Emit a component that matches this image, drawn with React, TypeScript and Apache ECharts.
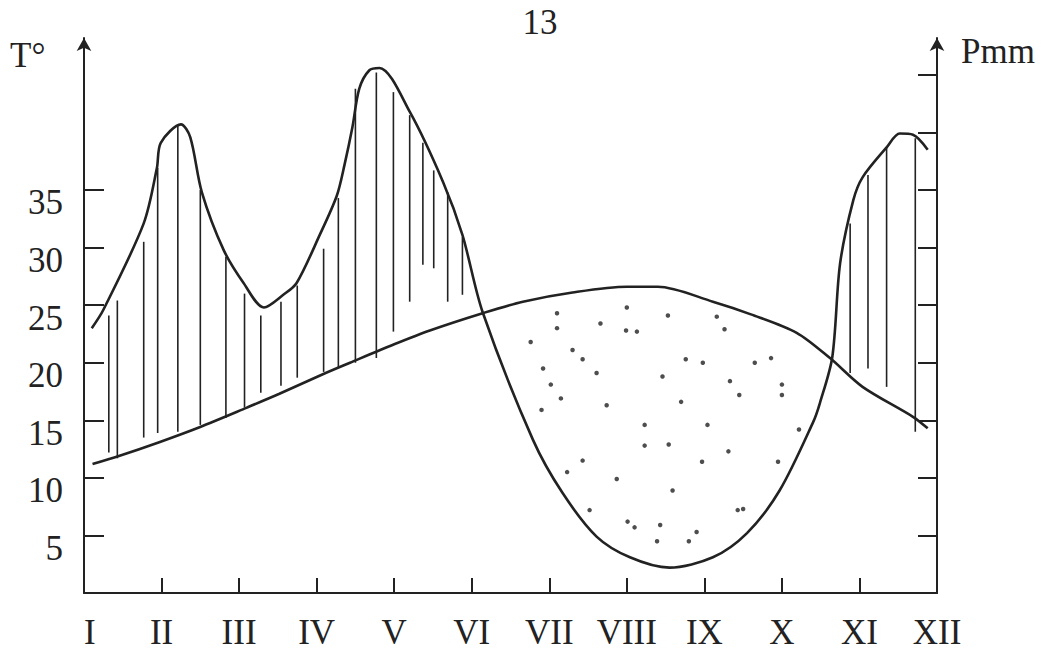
import React, { useEffect, useRef } from "react";
import * as echarts from "echarts";

// Month labels along the bottom axis (position 0 = January, 11 = December)
const months = ["I", "II", "III", "IV", "V", "VI", "VII", "VIII", "IX", "X", "XI", "XII"];
const monthLabelPositions = [0, 1, 2, 3, 4, 5, 6, 7, 8, 9, 10, 11];
const monthTickPositions = [1, 2, 3, 4, 5, 6, 7, 8, 9, 10];

// Temperature axis (°C) and precipitation axis (mm, P = 2T)
const tempTicks = [5, 10, 15, 20, 25, 30, 35];
const precipTicks = [10, 20, 30, 40, 50, 60, 70, 80, 90];
const tempMax = 48.2;
const precipMax = 96.4;

// Temperature curve: month position and °C
const tempMonth = [0.11, 0.45, 0.97, 1.49, 2.1, 2.52, 3.08, 3.43, 4.0, 4.46, 5.14, 5.66, 6.3, 7.0, 7.4, 8.11, 8.6, 9.19, 9.62, 10.04, 10.69, 10.88];
const tempValue = [11.2, 11.9, 13.1, 14.4, 16.1, 17.3, 19.0, 20.0, 21.6, 22.8, 24.3, 25.3, 26.1, 26.6, 26.6, 25.3, 24.2, 22.6, 20.4, 17.9, 15.3, 14.3];

// Precipitation curve: month position and mm
const precipMonth = [0.1, 0.25, 0.77, 0.94, 0.99, 1.25, 1.37, 1.52, 1.8, 2.06, 2.32, 2.57, 2.74, 3.04, 3.26, 3.36, 3.46, 3.55, 3.68, 3.81, 4.2, 4.63, 4.88, 5.14, 5.79, 6.17, 6.61, 7.04, 7.55, 8.11, 8.55, 8.97, 9.4, 9.49, 9.65, 9.75, 9.92, 10.04, 10.35, 10.52, 10.69, 10.88];
const precipValue = [46.0, 49.2, 64.2, 73.8, 78.2, 81.4, 79.2, 69.6, 59.6, 53.8, 49.6, 51.8, 53.8, 62.2, 69.0, 74.4, 80.8, 87.6, 90.8, 91.2, 83.6, 71.4, 62.2, 48.8, 26.6, 17.4, 9.8, 6.2, 4.4, 6.2, 10.4, 17.8, 29.6, 33.0, 41.0, 57.2, 68.2, 72.2, 77.4, 79.8, 79.6, 77.0];

// Humid-period hatching: month position, top and bottom of each stroke (°C scale)
const hatchMonth = [0.32, 0.43, 0.77, 0.95, 1.21, 1.5, 1.83, 2.07, 2.28, 2.54, 2.75, 3.09, 3.28, 3.5, 3.77, 3.99, 4.2, 4.37, 4.51, 4.69, 4.88, 9.88, 10.11, 10.35, 10.72];
const hatchTop = [24.1, 25.4, 30.5, 36.9, 40.6, 35.0, 29.2, 26.0, 24.1, 25.3, 26.7, 29.9, 34.3, 43.8, 45.2, 43.5, 41.5, 39.1, 36.7, 34.8, 30.9, 32.1, 36.3, 38.7, 39.5];
const hatchBottom = [12.2, 11.7, 13.5, 13.9, 14.0, 14.6, 15.2, 16.1, 17.4, 18.0, 18.7, 19.2, 19.6, 20.0, 20.4, 22.7, 25.3, 28.5, 28.2, 25.3, 25.9, 19.1, 19.5, 17.9, 14.0];

// Arid-period stippling: month position and °C scale height of each dot
const dotMonth = [6.1, 6.1, 5.76, 6.66, 7.0, 6.99, 7.13, 7.53, 8.16, 8.26, 6.3, 6.43, 5.92, 6.61, 6.02, 6.15, 5.9, 6.74, 7.46, 7.76, 7.98, 8.65, 8.86, 8.33, 8.45, 9.0, 9.0, 7.7, 7.23, 8.04, 9.22, 7.23, 7.54, 8.31, 7.97, 8.95, 6.43, 6.23, 6.87, 7.59, 8.43, 8.5, 6.52, 7.01, 7.1, 7.43, 7.9, 7.8, 7.39];
const dotValue = [24.3, 23.0, 21.8, 23.4, 24.8, 22.8, 22.7, 24.1, 24.0, 22.9, 21.1, 20.3, 19.5, 19.1, 18.1, 16.9, 15.9, 16.3, 18.8, 20.3, 20.0, 20.0, 20.4, 18.4, 17.2, 18.1, 17.2, 16.6, 14.6, 14.6, 14.2, 12.8, 12.9, 12.3, 11.4, 11.4, 11.5, 10.5, 9.9, 8.9, 7.2, 7.3, 7.2, 6.2, 5.7, 5.9, 5.3, 4.5, 4.5];

const INK = "#222222";
const FONT = "'Liberation Serif', 'Times New Roman', serif";

export default function App() {
  const ref = useRef<HTMLDivElement>(null);

  useEffect(() => {
    if (!ref.current) return;
    const chart = echarts.init(ref.current, undefined, { renderer: "svg" });

    const axisLineStyle = { color: INK, width: 2 };

    chart.setOption({
      animation: false,
      backgroundColor: "#ffffff",
      grid: { left: 84, right: 108, top: 38, bottom: 61 },
      graphic: [
        {
          type: "text",
          x: 540,
          y: 22,
          style: { text: "13", font: `35px ${FONT}`, fill: INK, textAlign: "center", textVerticalAlign: "middle" },
        },
        {
          type: "text",
          x: 10,
          y: 55,
          style: { text: "T°", font: `35px ${FONT}`, fill: INK, textAlign: "left", textVerticalAlign: "middle" },
        },
        {
          type: "text",
          x: 961,
          y: 51,
          style: { text: "Pmm", font: `35px ${FONT}`, fill: INK, textAlign: "left", textVerticalAlign: "middle" },
        },
      ],
      xAxis: {
        type: "value",
        min: 0,
        max: 11,
        splitLine: { show: false },
        axisLine: { show: true, onZero: false, lineStyle: axisLineStyle },
        axisTick: { show: true, inside: true, length: 15, customValues: monthTickPositions, lineStyle: { color: INK, width: 2 } },
        axisLabel: {
          customValues: monthLabelPositions,
          formatter: (v: number) => months[Math.round(v)],
          fontFamily: FONT,
          fontSize: 35,
          color: INK,
          margin: 21,
          lineHeight: 36,
          verticalAlign: "top",
          alignMinLabel: "left",
        },
      },
      yAxis: [
        {
          type: "value",
          position: "left",
          min: 0,
          max: tempMax,
          splitLine: { show: false },
          axisLine: { show: true, onZero: false, symbol: ["none", "arrow"], symbolSize: [11, 13], lineStyle: axisLineStyle },
          axisTick: { show: true, inside: true, length: 20, customValues: tempTicks, lineStyle: { color: INK, width: 2 } },
          axisLabel: {
            customValues: tempTicks,
            fontFamily: FONT,
            fontSize: 35,
            color: INK,
            margin: 21,
            lineHeight: 26,
            verticalAlign: "top",
          },
        },
        {
          type: "value",
          position: "right",
          min: 0,
          max: precipMax,
          splitLine: { show: false },
          axisLine: { show: true, onZero: false, symbol: ["none", "arrow"], symbolSize: [11, 13], lineStyle: axisLineStyle },
          axisTick: { show: true, inside: true, length: 19, customValues: precipTicks, lineStyle: { color: INK, width: 2 } },
          axisLabel: { show: false },
        },
      ],
      series: [
        {
          name: "hatch",
          type: "custom",
          xAxisIndex: 0,
          yAxisIndex: 0,
          silent: true,
          data: hatchMonth.map((m, i) => [m, hatchTop[i], hatchBottom[i]]),
          encode: { x: 0, y: [1, 2] },
          renderItem: (_params: any, api: any) => {
            const top = api.coord([api.value(0), api.value(1)]);
            const bottom = api.coord([api.value(0), api.value(2)]);
            return {
              type: "line",
              shape: { x1: top[0], y1: top[1], x2: bottom[0], y2: bottom[1] },
              style: { stroke: INK, lineWidth: 1.6 },
            };
          },
          z: 1,
        },
        {
          name: "stipple",
          type: "scatter",
          xAxisIndex: 0,
          yAxisIndex: 0,
          silent: true,
          symbol: "circle",
          symbolSize: 4.5,
          itemStyle: { color: INK },
          data: dotMonth.map((m, i) => [m, dotValue[i]]),
          z: 1,
        },
        {
          name: "T",
          type: "line",
          xAxisIndex: 0,
          yAxisIndex: 0,
          smooth: 0.3,
          showSymbol: false,
          symbol: "none",
          lineStyle: { color: INK, width: 2.6 },
          data: tempMonth.map((m, i) => [m, tempValue[i]]),
          z: 3,
        },
        {
          name: "P",
          type: "line",
          xAxisIndex: 0,
          yAxisIndex: 1,
          smooth: 0.3,
          showSymbol: false,
          symbol: "none",
          lineStyle: { color: INK, width: 2.6 },
          data: precipMonth.map((m, i) => [m, precipValue[i]]),
          z: 3,
        },
      ],
    });

    return () => chart.dispose();
  }, []);

  return (
    <div
      ref={ref}
      style={{ position: "absolute", left: 0, top: 0, width: 1045, height: 654, background: "#fff" }}
    />
  );
}
